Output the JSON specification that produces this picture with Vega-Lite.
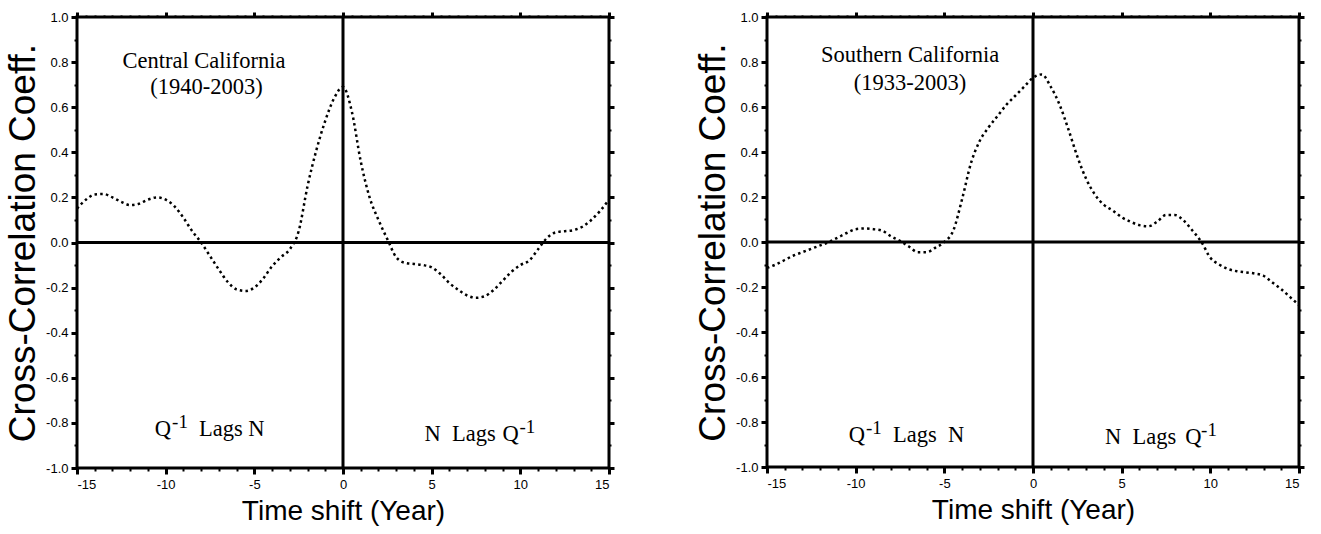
{
  "$schema": "https://vega.github.io/schema/vega-lite/v6.json",
  "padding": {"left": 3, "top": 9, "right": 0, "bottom": 0},
  "background": "white",
  "spacing": 76,
  "datasets": {
    "one": [{}],
    "central": [
      {"t": -15, "r": 0.15}, {"t": -14.5, "r": 0.19}, {"t": -14, "r": 0.213}, {"t": -13.5, "r": 0.215},
      {"t": -13, "r": 0.2}, {"t": -12.5, "r": 0.18}, {"t": -12, "r": 0.166}, {"t": -11.5, "r": 0.172},
      {"t": -11, "r": 0.19}, {"t": -10.5, "r": 0.2}, {"t": -10, "r": 0.19}, {"t": -9.5, "r": 0.16},
      {"t": -9, "r": 0.11}, {"t": -8.5, "r": 0.05}, {"t": -8, "r": 0.0}, {"t": -7.5, "r": -0.06},
      {"t": -7, "r": -0.12}, {"t": -6.5, "r": -0.175}, {"t": -6, "r": -0.208}, {"t": -5.5, "r": -0.215},
      {"t": -5, "r": -0.2}, {"t": -4.5, "r": -0.16}, {"t": -4, "r": -0.105}, {"t": -3.5, "r": -0.065},
      {"t": -3, "r": -0.03}, {"t": -2.5, "r": 0.05}, {"t": -2, "r": 0.25}, {"t": -1.5, "r": 0.41},
      {"t": -1, "r": 0.54}, {"t": -0.5, "r": 0.64}, {"t": 0, "r": 0.69}, {"t": 0.5, "r": 0.58},
      {"t": 1, "r": 0.36}, {"t": 1.5, "r": 0.2}, {"t": 2, "r": 0.1}, {"t": 2.5, "r": 0.015},
      {"t": 3, "r": -0.065}, {"t": 3.5, "r": -0.09}, {"t": 4, "r": -0.095}, {"t": 4.5, "r": -0.1},
      {"t": 5, "r": -0.11}, {"t": 5.5, "r": -0.14}, {"t": 6, "r": -0.18}, {"t": 6.5, "r": -0.21},
      {"t": 7, "r": -0.235}, {"t": 7.5, "r": -0.245}, {"t": 8, "r": -0.238}, {"t": 8.5, "r": -0.21},
      {"t": 9, "r": -0.17}, {"t": 9.5, "r": -0.13}, {"t": 10, "r": -0.1}, {"t": 10.5, "r": -0.08},
      {"t": 11, "r": -0.03}, {"t": 11.5, "r": 0.02}, {"t": 12, "r": 0.045}, {"t": 12.5, "r": 0.05},
      {"t": 13, "r": 0.055}, {"t": 13.5, "r": 0.07}, {"t": 14, "r": 0.1}, {"t": 14.5, "r": 0.14},
      {"t": 15, "r": 0.19}
    ],
    "southern": [
      {"t": -15, "r": -0.115}, {"t": -14.5, "r": -0.1}, {"t": -14, "r": -0.08}, {"t": -13.5, "r": -0.06},
      {"t": -13, "r": -0.045}, {"t": -12.5, "r": -0.03}, {"t": -12, "r": -0.015}, {"t": -11.5, "r": 0.0},
      {"t": -11, "r": 0.02}, {"t": -10.5, "r": 0.04}, {"t": -10, "r": 0.057}, {"t": -9.5, "r": 0.06},
      {"t": -9, "r": 0.057}, {"t": -8.5, "r": 0.05}, {"t": -8, "r": 0.025}, {"t": -7.5, "r": 0.005},
      {"t": -7, "r": -0.02}, {"t": -6.5, "r": -0.045}, {"t": -6, "r": -0.045}, {"t": -5.5, "r": -0.025},
      {"t": -5, "r": 0.0}, {"t": -4.5, "r": 0.05}, {"t": -4, "r": 0.19}, {"t": -3.5, "r": 0.35},
      {"t": -3, "r": 0.45}, {"t": -2.5, "r": 0.51}, {"t": -2, "r": 0.56}, {"t": -1.5, "r": 0.61},
      {"t": -1, "r": 0.65}, {"t": -0.5, "r": 0.69}, {"t": 0, "r": 0.73}, {"t": 0.5, "r": 0.745},
      {"t": 1, "r": 0.69}, {"t": 1.5, "r": 0.61}, {"t": 2, "r": 0.5}, {"t": 2.5, "r": 0.38},
      {"t": 3, "r": 0.28}, {"t": 3.5, "r": 0.21}, {"t": 4, "r": 0.165}, {"t": 4.5, "r": 0.14},
      {"t": 5, "r": 0.11}, {"t": 5.5, "r": 0.09}, {"t": 6, "r": 0.075}, {"t": 6.5, "r": 0.07},
      {"t": 7, "r": 0.09}, {"t": 7.5, "r": 0.12}, {"t": 8, "r": 0.12}, {"t": 8.5, "r": 0.095},
      {"t": 9, "r": 0.05}, {"t": 9.5, "r": 0.0}, {"t": 10, "r": -0.07}, {"t": 10.5, "r": -0.1},
      {"t": 11, "r": -0.12}, {"t": 11.5, "r": -0.13}, {"t": 12, "r": -0.135}, {"t": 12.5, "r": -0.14},
      {"t": 13, "r": -0.15}, {"t": 13.5, "r": -0.18}, {"t": 14, "r": -0.21}, {"t": 14.5, "r": -0.245},
      {"t": 15, "r": -0.28}
    ]
  },
  "config": {
    "view": {"stroke": "black", "strokeWidth": 3},
    "axis": {
      "domain": false, "grid": false, "tickColor": "black", "labelColor": "black", "titleColor": "black",
      "labelFont": "Liberation Sans", "labelFontSize": 13, "titleFont": "Liberation Sans", "titleFontWeight": "normal"
    },
    "axisX": {"titleFontSize": 28},
    "axisY": {"titleFontSize": 37},
    "text": {"font": "Liberation Serif", "fontSize": 22.5, "color": "black"}
  },
  "hconcat": [
    {
      "width": 532, "height": 451,
      "resolve": {"axis": {"x": "independent", "y": "independent"}},
      "layer": [
        {
          "data": {"name": "central"},
          "mark": {"type": "line", "color": "black", "strokeWidth": 2.5, "strokeDash": [2.5, 3.2], "interpolate": "monotone"},
          "encoding": {
            "x": {"field": "t", "type": "quantitative", "scale": {"domain": [-15, 15], "nice": false, "zero": false},
              "axis": {"orient": "bottom", "title": "Time shift (Year)", "titlePadding": 6,
                "values": [-15,-14,-13,-12,-11,-10,-9,-8,-7,-6,-5,-4,-3,-2,-1,0,1,2,3,4,5,6,7,8,9,10,11,12,13,14,15],
                "labelExpr": "datum.value % 5 === 0 ? '' + datum.value : ''", "labelPadding": 4,
                "tickSize": {"condition": {"test": "datum.value % 5 === 0", "value": 6}, "value": 3},
                "tickWidth": {"condition": {"test": "datum.value % 5 === 0", "value": 3}, "value": 2}}},
            "y": {"field": "r", "type": "quantitative", "scale": {"domain": [-1, 1], "nice": false, "zero": false},
              "axis": {"orient": "left", "title": "Cross-Correlation Coeff.", "titlePadding": 3,
                "values": [-1,-0.9,-0.8,-0.7,-0.6,-0.5,-0.4,-0.3,-0.2,-0.1,0,0.1,0.2,0.3,0.4,0.5,0.6,0.7,0.8,0.9,1],
                "labelExpr": "round(datum.value*10) % 2 === 0 ? (datum.value < 0 ? '-' : '') + format(abs(datum.value), '.1f') : ''",
                "labelPadding": 3,
                "tickSize": {"condition": {"test": "round(datum.value*10) % 2 === 0", "value": 6}, "value": 3},
                "tickWidth": {"condition": {"test": "round(datum.value*10) % 2 === 0", "value": 3}, "value": 2}}}
          }
        },
        {
          "data": {"name": "central"},
          "mark": {"type": "point", "opacity": 0},
          "encoding": {
            "x": {"field": "t", "type": "quantitative",
              "axis": {"orient": "top", "title": null, "labels": false,
                "values": [-15,-14.5,-14,-13.5,-13,-12.5,-12,-11.5,-11,-10.5,-10,-9.5,-9,-8.5,-8,-7.5,-7,-6.5,-6,-5.5,-5,-4.5,-4,-3.5,-3,-2.5,-2,-1.5,-1,-0.5,0,0.5,1,1.5,2,2.5,3,3.5,4,4.5,5,5.5,6,6.5,7,7.5,8,8.5,9,9.5,10,10.5,11,11.5,12,12.5,13,13.5,14,14.5,15],
                "tickSize": {"condition": {"test": "datum.value % 5 === 0", "value": 5}, "value": 2},
                "tickWidth": {"condition": {"test": "datum.value % 5 === 0", "value": 3}, "value": 2}}},
            "y": {"field": "r", "type": "quantitative",
              "axis": {"orient": "right", "title": null, "labels": false,
                "values": [-1,-0.9,-0.8,-0.7,-0.6,-0.5,-0.4,-0.3,-0.2,-0.1,0,0.1,0.2,0.3,0.4,0.5,0.6,0.7,0.8,0.9,1],
                "tickSize": {"condition": {"test": "round(datum.value*10) % 2 === 0", "value": 5}, "value": 2},
                "tickWidth": {"condition": {"test": "round(datum.value*10) % 2 === 0", "value": 3}, "value": 2}}}
          }
        },
        {"data": {"name": "one"}, "mark": {"type": "rule", "color": "black", "strokeWidth": 3}, "encoding": {"y": {"datum": 0, "axis": null}}},
        {"data": {"name": "one"}, "mark": {"type": "rule", "color": "black", "strokeWidth": 3}, "encoding": {"x": {"datum": 0, "axis": null}}},
        {"data": {"name": "one"}, "mark": {"type": "text", "text": "Central California", "align": "center", "baseline": "middle"},
          "encoding": {"x": {"datum": -7.84, "axis": null}, "y": {"datum": 0.807, "axis": null}}},
        {"data": {"name": "one"}, "mark": {"type": "text", "text": "(1940-2003)", "align": "center", "baseline": "middle"},
          "encoding": {"x": {"datum": -7.7, "axis": null}, "y": {"datum": 0.69, "axis": null}}},
        {"data": {"name": "one"}, "mark": {"type": "text", "text": "Q", "align": "right", "baseline": "alphabetic"},
          "encoding": {"x": {"datum": -9.7, "axis": null}, "y": {"datum": -0.86, "axis": null}}},
        {"data": {"name": "one"}, "mark": {"type": "text", "text": "-1", "align": "left", "baseline": "alphabetic", "fontSize": 19, "dy": -8},
          "encoding": {"x": {"datum": -9.64, "axis": null}, "y": {"datum": -0.86, "axis": null}}},
        {"data": {"name": "one"}, "mark": {"type": "text", "text": "Lags N", "align": "left", "baseline": "alphabetic"},
          "encoding": {"x": {"datum": -8.12, "axis": null}, "y": {"datum": -0.86, "axis": null}}},
        {"data": {"name": "one"}, "mark": {"type": "text", "text": "N\u00a0\u00a0Lags", "align": "left", "baseline": "alphabetic"},
          "encoding": {"x": {"datum": 4.6, "axis": null}, "y": {"datum": -0.88, "axis": null}}},
        {"data": {"name": "one"}, "mark": {"type": "text", "text": "Q", "align": "left", "baseline": "alphabetic"},
          "encoding": {"x": {"datum": 9.0, "axis": null}, "y": {"datum": -0.88, "axis": null}}},
        {"data": {"name": "one"}, "mark": {"type": "text", "text": "-1", "align": "left", "baseline": "alphabetic", "fontSize": 19, "dy": -8},
          "encoding": {"x": {"datum": 9.95, "axis": null}, "y": {"datum": -0.88, "axis": null}}}
      ]
    },
    {
      "width": 532, "height": 450,
      "resolve": {"axis": {"x": "independent", "y": "independent"}},
      "layer": [
        {
          "data": {"name": "southern"},
          "mark": {"type": "line", "color": "black", "strokeWidth": 2.5, "strokeDash": [2.5, 3.2], "interpolate": "monotone"},
          "encoding": {
            "x": {"field": "t", "type": "quantitative", "scale": {"domain": [-15, 15], "nice": false, "zero": false},
              "axis": {"orient": "bottom", "title": "Time shift (Year)", "titlePadding": 6,
                "values": [-15,-14,-13,-12,-11,-10,-9,-8,-7,-6,-5,-4,-3,-2,-1,0,1,2,3,4,5,6,7,8,9,10,11,12,13,14,15],
                "labelExpr": "datum.value % 5 === 0 ? '' + datum.value : ''", "labelPadding": 4,
                "tickSize": {"condition": {"test": "datum.value % 5 === 0", "value": 6}, "value": 3},
                "tickWidth": {"condition": {"test": "datum.value % 5 === 0", "value": 3}, "value": 2}}},
            "y": {"field": "r", "type": "quantitative", "scale": {"domain": [-1, 1], "nice": false, "zero": false},
              "axis": {"orient": "left", "title": "Cross-Correlation Coeff.", "titlePadding": 3,
                "values": [-1,-0.9,-0.8,-0.7,-0.6,-0.5,-0.4,-0.3,-0.2,-0.1,0,0.1,0.2,0.3,0.4,0.5,0.6,0.7,0.8,0.9,1],
                "labelExpr": "round(datum.value*10) % 2 === 0 ? (datum.value < 0 ? '-' : '') + format(abs(datum.value), '.1f') : ''",
                "labelPadding": 3,
                "tickSize": {"condition": {"test": "round(datum.value*10) % 2 === 0", "value": 6}, "value": 3},
                "tickWidth": {"condition": {"test": "round(datum.value*10) % 2 === 0", "value": 3}, "value": 2}}}
          }
        },
        {
          "data": {"name": "southern"},
          "mark": {"type": "point", "opacity": 0},
          "encoding": {
            "x": {"field": "t", "type": "quantitative",
              "axis": {"orient": "top", "title": null, "labels": false,
                "values": [-15,-14.5,-14,-13.5,-13,-12.5,-12,-11.5,-11,-10.5,-10,-9.5,-9,-8.5,-8,-7.5,-7,-6.5,-6,-5.5,-5,-4.5,-4,-3.5,-3,-2.5,-2,-1.5,-1,-0.5,0,0.5,1,1.5,2,2.5,3,3.5,4,4.5,5,5.5,6,6.5,7,7.5,8,8.5,9,9.5,10,10.5,11,11.5,12,12.5,13,13.5,14,14.5,15],
                "tickSize": {"condition": {"test": "datum.value % 5 === 0", "value": 5}, "value": 2},
                "tickWidth": {"condition": {"test": "datum.value % 5 === 0", "value": 3}, "value": 2}}},
            "y": {"field": "r", "type": "quantitative",
              "axis": {"orient": "right", "title": null, "labels": false,
                "values": [-1,-0.9,-0.8,-0.7,-0.6,-0.5,-0.4,-0.3,-0.2,-0.1,0,0.1,0.2,0.3,0.4,0.5,0.6,0.7,0.8,0.9,1],
                "tickSize": {"condition": {"test": "round(datum.value*10) % 2 === 0", "value": 5}, "value": 2},
                "tickWidth": {"condition": {"test": "round(datum.value*10) % 2 === 0", "value": 3}, "value": 2}}}
          }
        },
        {"data": {"name": "one"}, "mark": {"type": "rule", "color": "black", "strokeWidth": 3}, "encoding": {"y": {"datum": 0, "axis": null}}},
        {"data": {"name": "one"}, "mark": {"type": "rule", "color": "black", "strokeWidth": 3}, "encoding": {"x": {"datum": 0, "axis": null}}},
        {"data": {"name": "one"}, "mark": {"type": "text", "text": "Southern California", "align": "center", "baseline": "middle"},
          "encoding": {"x": {"datum": -6.93, "axis": null}, "y": {"datum": 0.83, "axis": null}}},
        {"data": {"name": "one"}, "mark": {"type": "text", "text": "(1933-2003)", "align": "center", "baseline": "middle"},
          "encoding": {"x": {"datum": -6.93, "axis": null}, "y": {"datum": 0.707, "axis": null}}},
        {"data": {"name": "one"}, "mark": {"type": "text", "text": "Q", "align": "right", "baseline": "alphabetic"},
          "encoding": {"x": {"datum": -9.47, "axis": null}, "y": {"datum": -0.889, "axis": null}}},
        {"data": {"name": "one"}, "mark": {"type": "text", "text": "-1", "align": "left", "baseline": "alphabetic", "fontSize": 19, "dy": -8},
          "encoding": {"x": {"datum": -9.42, "axis": null}, "y": {"datum": -0.889, "axis": null}}},
        {"data": {"name": "one"}, "mark": {"type": "text", "text": "Lags\u00a0\u00a0N", "align": "left", "baseline": "alphabetic"},
          "encoding": {"x": {"datum": -7.89, "axis": null}, "y": {"datum": -0.889, "axis": null}}},
        {"data": {"name": "one"}, "mark": {"type": "text", "text": "N\u00a0\u00a0Lags", "align": "left", "baseline": "alphabetic"},
          "encoding": {"x": {"datum": 4.06, "axis": null}, "y": {"datum": -0.898, "axis": null}}},
        {"data": {"name": "one"}, "mark": {"type": "text", "text": "Q", "align": "left", "baseline": "alphabetic"},
          "encoding": {"x": {"datum": 8.58, "axis": null}, "y": {"datum": -0.898, "axis": null}}},
        {"data": {"name": "one"}, "mark": {"type": "text", "text": "-1", "align": "left", "baseline": "alphabetic", "fontSize": 19, "dy": -8},
          "encoding": {"x": {"datum": 9.48, "axis": null}, "y": {"datum": -0.898, "axis": null}}}
      ]
    }
  ]
}
